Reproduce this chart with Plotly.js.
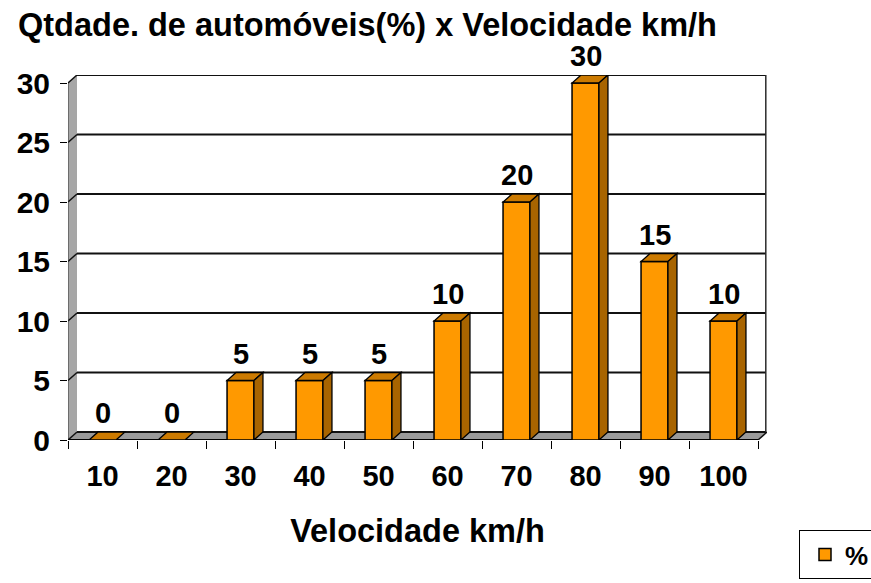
<!DOCTYPE html>
<html>
<head>
<meta charset="utf-8">
<script src="https://cdn.plot.ly/plotly-3.0.1.min.js"></script>
<style>html,body{margin:0;padding:0;background:#fff;}#chart{width:871px;height:583px;}</style>
</head>
<body>
<div id="chart"></div>
<script>
// ---- data ----
const categories = ['10', '20', '30', '40', '50', '60', '70', '80', '90', '100'];
const percents = [0, 0, 5, 5, 5, 10, 20, 30, 15, 10];
const yTicks = [0, 5, 10, 15, 20, 25, 30];
const seriesName = '%';

// ---- geometry / style ----
const W = 871, H = 583;
const M = {l: 68, r: 104, t: 75, b: 143};
const DEPTH_X = 9, DEPTH_Y = 8;           // pseudo-3D depth in pixels
const Y_MAX = 30;
const plotW = W - M.l - M.r, plotH = H - M.t - M.b;
const nCat = categories.length;
const unitX = (plotW - DEPTH_X) / nCat;
const unitY = (plotH - DEPTH_Y) / Y_MAX;
const dx = DEPTH_X / unitX, dy = DEPTH_Y / unitY;
const BAR_W = 0.39, hw = BAR_W / 2;
const FRONT = '#FF9900', TOP = '#CC7A00', SIDE = '#A86400';
const FONT = 'Liberation Sans, Arial, Helvetica, sans-serif';
const xs = categories.map((c, i) => i);
const xL = -0.5, xR = nCat - 0.5;

const shapes = [];
// left wall
shapes.push({type: 'path', xref: 'x', yref: 'y', layer: 'below',
  path: `M${xL},0 L${xL},${Y_MAX} L${xL + dx},${Y_MAX + dy} L${xL + dx},${dy} Z`,
  fillcolor: '#a6a6a6', line: {width: 0}});
// floor
shapes.push({type: 'path', xref: 'x', yref: 'y', layer: 'below',
  path: `M${xL},0 L${xR},0 L${xR + dx},${dy} L${xL + dx},${dy} Z`,
  fillcolor: '#9a9a9a', line: {width: 0}});
// back wall grid lines + diagonals on left wall
yTicks.forEach(v => {
  shapes.push({type: 'line', xref: 'x', yref: 'y', layer: 'below',
    x0: xL + dx, x1: xR + dx, y0: v + dy, y1: v + dy, line: {color: '#111', width: 2}});
  if (v > 0) shapes.push({type: 'line', xref: 'x', yref: 'y', layer: 'below',
    x0: xL, x1: xL + dx, y0: v, y1: v + dy, line: {color: '#111', width: 1.5}});
});
// back wall right edge
shapes.push({type: 'line', xref: 'x', yref: 'y', layer: 'below',
  x0: xR + dx, x1: xR + dx, y0: dy, y1: Y_MAX + dy, line: {color: '#999', width: 3}});
shapes.push({type: 'line', xref: 'x', yref: 'y', layer: 'below',
  x0: xR + dx - 0.02, x1: xR + dx - 0.02, y0: dy, y1: Y_MAX + dy, line: {color: '#222', width: 1}});
// left wall front edge
shapes.push({type: 'line', xref: 'x', yref: 'y', layer: 'below',
  x0: xL, x1: xL, y0: 0, y1: Y_MAX, line: {color: '#333', width: 1}});
// floor edges
shapes.push({type: 'line', xref: 'x', yref: 'y', layer: 'below',
  x0: xL, x1: xL + dx, y0: 0, y1: dy, line: {color: '#111', width: 1.5}});
shapes.push({type: 'line', xref: 'x', yref: 'y', layer: 'below',
  x0: xR, x1: xR + dx, y0: 0, y1: dy, line: {color: '#111', width: 1.5}});
shapes.push({type: 'line', xref: 'x', yref: 'y', layer: 'below',
  x0: xL, x1: xR, y0: 0, y1: 0, line: {color: '#000', width: 2}});

// bar top and side faces
xs.forEach((i, k) => {
  const v = percents[k];
  shapes.push({type: 'path', xref: 'x', yref: 'y', layer: 'above',
    path: `M${i - hw},${v} L${i + hw},${v} L${i + hw + dx},${v + dy} L${i - hw + dx},${v + dy} Z`,
    fillcolor: TOP, line: {color: '#000', width: 1.3}});
  if (v > 0) shapes.push({type: 'path', xref: 'x', yref: 'y', layer: 'above',
    path: `M${i + hw},0 L${i + hw},${v} L${i + hw + dx},${v + dy} L${i + hw + dx},${dy} Z`,
    fillcolor: SIDE, line: {color: '#000', width: 1.3}});
});

const annotations = xs.map((i, k) => ({
  x: i, y: percents[k], xref: 'x', yref: 'y', text: String(percents[k]),
  showarrow: false, yanchor: 'bottom', xanchor: 'center', yshift: 9,
  font: {family: FONT, size: 29, color: '#000', weight: 700}
}));

const trace = {
  type: 'bar', x: xs, y: percents, name: seriesName, width: BAR_W,
  marker: {color: FRONT, line: {color: '#000', width: 1.5}},
  hoverinfo: 'skip', showlegend: true
};

const tickFont = {family: FONT, size: 29, color: '#000', weight: 700};
const layout = {
  width: W, height: H, margin: M,
  paper_bgcolor: '#fff', plot_bgcolor: 'rgba(0,0,0,0)',
  title: {text: 'Qtdade. de automóveis(%) x Velocidade km/h', xref: 'container', yref: 'container',
    x: 18 / W, xanchor: 'left', y: 1 - 25 / H, yanchor: 'middle',
    font: {family: FONT, size: 32.5, color: '#000', weight: 700}},
  xaxis: {range: [xL, xR + dx], tickmode: 'array', tickvals: xs, ticktext: categories,
    ticks: '', showgrid: false, zeroline: false, showline: false, tickfont: tickFont,
    ticklabelstandoff: 16,
    minor: {tickmode: 'array', tickvals: xs.map(i => i - 0.5).concat([xR]), ticks: 'outside',
      ticklen: 8, tickcolor: '#000', tickwidth: 1, showgrid: false},
    title: {text: 'Velocidade km/h', font: {family: FONT, size: 32.5, color: '#000', weight: 700}, standoff: 28},
    fixedrange: true},
  yaxis: {range: [0, Y_MAX + dy], tickmode: 'array', tickvals: yTicks, ticks: 'outside', ticklen: 7,
    tickcolor: '#000', showgrid: false, zeroline: false, showline: false,
    tickfont: Object.assign({}, tickFont, {size: 30}),
    ticklabelstandoff: 4, fixedrange: true},
  showlegend: true,
  legend: {xref: 'container', yref: 'container', x: 799 / W, y: 1 - 530 / H, xanchor: 'left', yanchor: 'top',
    bordercolor: '#000', borderwidth: 1, bgcolor: '#fff',
    font: Object.assign({}, tickFont, {size: 26}), indentation: 5},
  shapes: shapes, annotations: annotations, bargap: 0
};

Plotly.newPlot('chart', [trace], layout, {displayModeBar: false, staticPlot: true});
</script>
</body>
</html>
